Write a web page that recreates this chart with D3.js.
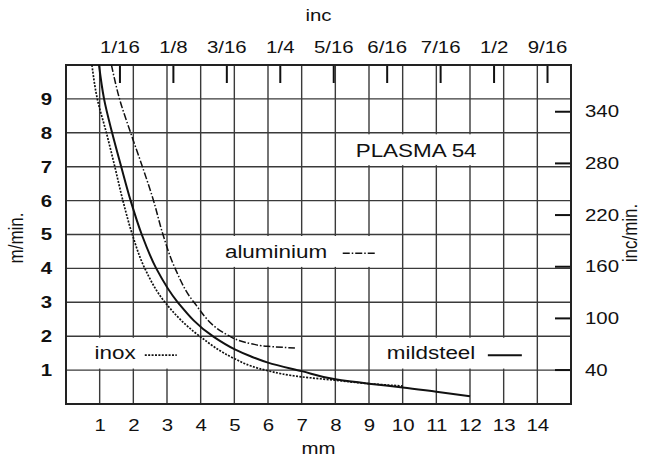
<!DOCTYPE html>
<html>
  <head>
    <title>Plasma 54</title>
    <script src="https://d3js.org/d3.v7.min.js"></script>
    <style>
      body { margin: 0; background: #fff; }
      text { font-family: "Liberation Sans", Arial, sans-serif; fill: #111; }
      .grid line { stroke: #3a3a3a; stroke-width: 1.4px; }
      .frame { fill: none; stroke: #222; stroke-width: 2px; }
      .axis .domain { display: none; }
      .axis .tick line { stroke: #111; stroke-width: 2px; }
      .axis text { font-size: 17px; }
      .axis--left text { font-weight: bold; }
      .axis__label { font-size: 17px; text-anchor: middle; }
      .label { font-size: 18.7px; }
      .curve { fill: none; stroke: #111; }
      .curve--mild { stroke-width: 2px; }
      .curve--inox { stroke-width: 1.7px; stroke-dasharray: 2 1.4; }
      .curve--alu { stroke-width: 1.5px; stroke-dasharray: 7 2 1.5 2; }
    </style>
  </head>
  <body>
    <svg width="646" height="461"></svg>
    <script>
      // cutting speed (m/min) against thickness (mm)
      const inoxMm    = [0.77, 0.93, 1.2, 1.45, 1.69, 1.97, 2.34, 2.94, 3.97, 5, 5.5, 6, 7, 8, 9, 10];
      const inoxSpeed = [10, 9, 8, 7, 6, 5, 4, 3, 2, 1.34, 1.12, 0.98, 0.8, 0.7, 0.6, 0.53];
      const mildMm    = [0.98, 1.13, 1.37, 1.64, 1.92, 2.25, 2.68, 3.32, 4.36, 5, 5.5, 6, 7, 8, 9, 10, 11, 12];
      const mildSpeed = [10, 9, 8, 7, 6, 5, 4, 3, 2, 1.62, 1.4, 1.22, 0.97, 0.73, 0.6, 0.49, 0.36, 0.23];
      const aluMm     = [1.35, 1.59, 1.92, 2.27, 2.6, 2.88, 3.24, 3.8, 4.86, 5, 5.5, 6, 6.8];
      const aluSpeed  = [10, 9, 8, 7, 6, 5, 4, 3, 2, 1.93, 1.78, 1.7, 1.65];

      const mmTicks = [1, 2, 3, 4, 5, 6, 7, 8, 9, 10, 11, 12, 13, 14];
      const speedTicks = [1, 2, 3, 4, 5, 6, 7, 8, 9];
      const incTicks = [1/16, 1/8, 3/16, 1/4, 5/16, 6/16, 7/16, 1/2, 9/16];
      const incLabels = ["1/16", "1/8", "3/16", "1/4", "5/16", "6/16", "7/16", "1/2", "9/16"];
      const incMinTicks = [40, 100, 160, 220, 280, 340];

      const title = "PLASMA 54";
      const stretch = 1.2;

      const margin = {top: 65, right: 75, bottom: 57, left: 66};
      const svg = d3.select("svg");
      const width = +svg.attr("width");
      const height = +svg.attr("height");
      const innerWidth = width - margin.left - margin.right;
      const innerHeight = height - margin.top - margin.bottom;

      const xScale = d3.scaleLinear().domain([0, 15]).range([0, innerWidth]);
      const yScale = d3.scaleLinear().domain([0, 10]).range([innerHeight, 0]);
      const xIncScale = d3.scaleLinear().domain([0, 15 / 25.4]).range([0, innerWidth]);
      const yIncScale = d3.scaleLinear().domain([0, 10 * 39.37]).range([innerHeight, 0]);

      const g = svg.append("g")
          .attr("transform", `translate(${margin.left}, ${margin.top})`);

      // grid
      const grid = g.append("g").attr("class", "grid");
      grid.selectAll(".v").data(mmTicks).enter().append("line")
          .attr("x1", d => xScale(d)).attr("x2", d => xScale(d))
          .attr("y1", 0).attr("y2", innerHeight);
      grid.selectAll(".h").data(speedTicks).enter().append("line")
          .attr("y1", d => yScale(d)).attr("y2", d => yScale(d))
          .attr("x1", 0).attr("x2", innerWidth);

      // white boxes behind the labels
      const boxes = [[8.28, 12.25, 7, 8], [4.3, 9.6, 4, 5], [0.05, 3.95, 1, 2], [9.32, 13.63, 1, 2]];
      g.selectAll(".box").data(boxes).enter().append("rect")
          .attr("fill", "#fff")
          .attr("x", d => xScale(d[0]))
          .attr("width", d => xScale(d[1]) - xScale(d[0]))
          .attr("y", d => yScale(d[3]) + 1.5)
          .attr("height", d => yScale(d[2]) - yScale(d[3]) - 3);

      // axes
      g.append("g").attr("class", "axis axis--bottom")
          .attr("transform", `translate(0, ${innerHeight})`)
          .call(d3.axisBottom(xScale).tickValues(mmTicks).tickSize(0).tickPadding(15));
      g.append("g").attr("class", "axis axis--left")
          .call(d3.axisLeft(yScale).tickValues(speedTicks).tickSize(0).tickPadding(14));
      g.append("g").attr("class", "axis axis--top")
          .call(d3.axisTop(xIncScale).tickValues(incTicks).tickSize(-18).tickPadding(12)
            .tickFormat((d, i) => incLabels[i]));
      g.append("g").attr("class", "axis axis--right")
          .attr("transform", `translate(${innerWidth}, 0)`)
          .call(d3.axisRight(yIncScale).tickValues(incMinTicks).tickSize(-16).tickPadding(14));

      g.append("rect").attr("class", "frame")
          .attr("width", innerWidth).attr("height", innerHeight);

      // curves: speed falls steadily, so interpolate thickness as a function of speed
      const line = d3.line()
          .x(d => xScale(d[0]))
          .y(d => yScale(d[1]))
          .curve(d3.curveMonotoneY);
      const series = [
        {cls: "curve--inox", mm: inoxMm, speed: inoxSpeed},
        {cls: "curve--mild", mm: mildMm, speed: mildSpeed},
        {cls: "curve--alu", mm: aluMm, speed: aluSpeed}
      ];
      g.selectAll(".curve").data(series).enter().append("path")
          .attr("class", d => "curve " + d.cls)
          .attr("d", d => line(d.mm.map((m, i) => [m, d.speed[i]])));

      // legend
      const legend = [
        {text: "aluminium", cls: "curve--alu", tx: 4.72, ty: 4.31, l0: 8.22, l1: 9.2, ly: 4.45},
        {text: "inox", cls: "curve--inox", tx: 0.85, ty: 1.32, l0: 2.34, l1: 3.29, ly: 1.44},
        {text: "mildsteel", cls: "curve--mild", tx: 9.53, ty: 1.32, l0: 12.53, l1: 13.54, ly: 1.44}
      ];
      g.selectAll(".label").data(legend).enter().append("text")
          .attr("class", "label")
          .attr("x", d => xScale(d.tx)).attr("y", d => yScale(d.ty))
          .text(d => d.text);
      g.selectAll(".key").data(legend).enter().append("line")
          .attr("class", d => "curve " + d.cls)
          .attr("x1", d => xScale(d.l0)).attr("x2", d => xScale(d.l1))
          .attr("y1", d => yScale(d.ly)).attr("y2", d => yScale(d.ly));
      g.append("text").attr("class", "label")
          .attr("text-anchor", "middle")
          .attr("x", xScale(10.4)).attr("y", yScale(7.29))
          .text(title);

      // axis titles
      svg.append("text").attr("class", "axis__label")
          .attr("x", margin.left + innerWidth / 2).attr("y", 21).text("inc");
      svg.append("text").attr("class", "axis__label")
          .attr("x", margin.left + innerWidth / 2).attr("y", 454).text("mm");

      // the scan is wider than it is tall: widen every horizontal text
      svg.selectAll("text").each(function() {
        const w = this.getComputedTextLength();
        d3.select(this)
          .attr("textLength", w * stretch)
          .attr("lengthAdjust", "spacingAndGlyphs");
      });

      svg.append("text").attr("class", "axis__label")
          .attr("transform", `translate(23, 238) scale(${stretch},1) rotate(-90)`)
          .text("m/min.");
      svg.append("text").attr("class", "axis__label")
          .attr("transform", `translate(637, 233) scale(${stretch},1) rotate(-90)`)
          .text("inc/min.");
    </script>
  </body>
</html>
